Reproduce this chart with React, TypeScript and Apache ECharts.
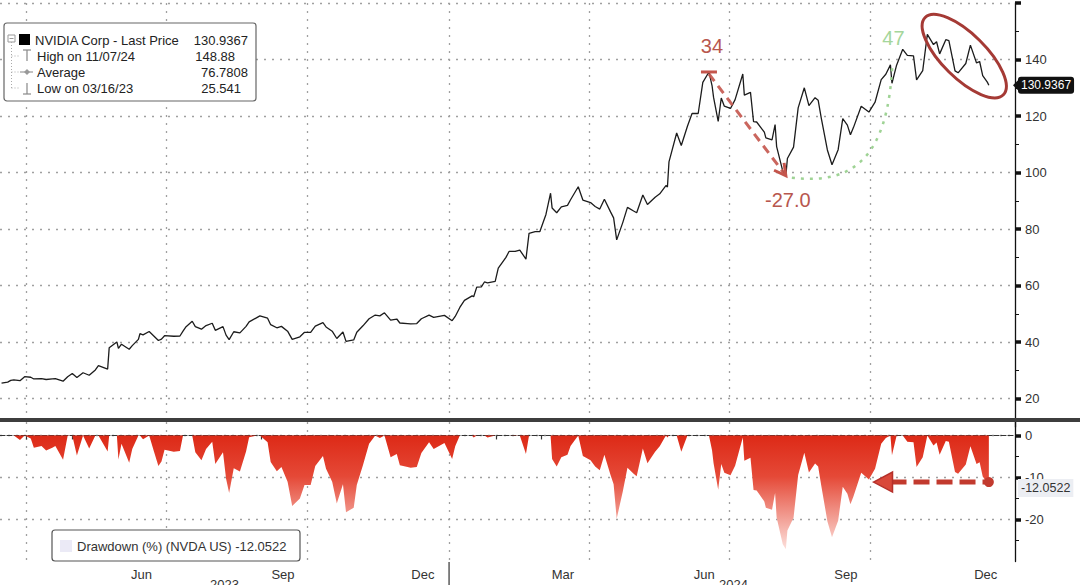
import React, { useEffect, useRef } from 'react';
import * as echarts from 'echarts';

// ---------- data ----------
const priceDates = [
  '2023-03-16','2023-03-20','2023-03-22','2023-03-24','2023-03-28','2023-03-31',
  '2023-04-04','2023-04-06','2023-04-11','2023-04-14','2023-04-18','2023-04-20','2023-04-25','2023-04-28',
  '2023-05-01','2023-05-04','2023-05-08','2023-05-12','2023-05-16','2023-05-18','2023-05-24','2023-05-25','2023-05-30','2023-05-31',
  '2023-06-02','2023-06-07','2023-06-09','2023-06-13','2023-06-14','2023-06-16','2023-06-20','2023-06-23','2023-06-26','2023-06-28','2023-06-30',
  '2023-07-06','2023-07-10','2023-07-12','2023-07-14','2023-07-18','2023-07-20','2023-07-24','2023-07-27','2023-07-31',
  '2023-08-02','2023-08-07','2023-08-09','2023-08-11','2023-08-14','2023-08-18','2023-08-22','2023-08-24','2023-08-29','2023-08-31',
  '2023-09-05','2023-09-07','2023-09-11','2023-09-14','2023-09-18','2023-09-21','2023-09-26','2023-09-29',
  '2023-10-03','2023-10-06','2023-10-11','2023-10-13','2023-10-17','2023-10-20','2023-10-24','2023-10-26','2023-10-31',
  '2023-11-02','2023-11-06','2023-11-10','2023-11-14','2023-11-17','2023-11-20','2023-11-24','2023-11-28','2023-11-30',
  '2023-12-05','2023-12-07','2023-12-11','2023-12-14','2023-12-19','2023-12-22','2023-12-29',
  '2024-01-03','2024-01-05','2024-01-08','2024-01-11','2024-01-16','2024-01-17','2024-01-19','2024-01-22','2024-01-24','2024-01-26','2024-01-31',
  '2024-02-02','2024-02-07','2024-02-09','2024-02-13','2024-02-16','2024-02-20','2024-02-22','2024-02-26','2024-02-29',
  '2024-03-04','2024-03-07','2024-03-08','2024-03-11','2024-03-14','2024-03-18','2024-03-20','2024-03-25','2024-03-28',
  '2024-04-02','2024-04-05','2024-04-08','2024-04-11','2024-04-15','2024-04-17','2024-04-19','2024-04-23','2024-04-26','2024-04-30',
  '2024-05-02','2024-05-06','2024-05-09','2024-05-14','2024-05-17','2024-05-21','2024-05-22','2024-05-23','2024-05-28','2024-05-31',
  '2024-06-04','2024-06-07','2024-06-11','2024-06-14','2024-06-18','2024-06-20','2024-06-21','2024-06-24','2024-06-26','2024-06-28',
  '2024-07-02','2024-07-05','2024-07-10','2024-07-11','2024-07-15','2024-07-17','2024-07-19','2024-07-24','2024-07-25','2024-07-29','2024-07-31',
  '2024-08-01','2024-08-05','2024-08-07','2024-08-08','2024-08-12','2024-08-15','2024-08-19','2024-08-22','2024-08-26','2024-08-28','2024-08-30',
  '2024-09-03','2024-09-06','2024-09-10','2024-09-13','2024-09-16','2024-09-18','2024-09-20','2024-09-25','2024-09-30',
  '2024-10-04','2024-10-08','2024-10-11','2024-10-14','2024-10-15','2024-10-18','2024-10-22','2024-10-25','2024-10-29','2024-10-31',
  '2024-11-04','2024-11-07','2024-11-11','2024-11-13','2024-11-15','2024-11-19','2024-11-21','2024-11-25','2024-11-27',
  '2024-12-02','2024-12-05','2024-12-09','2024-12-11','2024-12-13','2024-12-16','2024-12-17',
];

const prices = [
  25.5, 25.9, 26.5, 26.7, 26.4, 27.8,
  27.6, 27.0, 27.1, 26.8, 27.0, 27.1, 26.2, 27.8,
  28.9, 27.5, 29.2, 28.3, 30.2, 31.7, 30.5, 38.0, 40.1, 37.8,
  39.3, 37.5, 38.8, 41.0, 43.0, 42.6, 43.8, 42.2, 40.6, 41.1, 42.3,
  42.1, 42.2, 43.9, 45.5, 47.4, 45.5, 44.6, 45.9, 46.7,
  44.2, 45.5, 42.5, 40.9, 43.7, 43.3, 45.6, 47.2, 48.7, 49.3,
  48.5, 46.2, 45.1, 45.6, 43.9, 41.0, 41.9, 43.5,
  43.5, 45.7, 46.9, 45.4, 43.9, 41.3, 43.6, 40.3, 40.8,
  43.5, 45.8, 48.3, 49.6, 49.3, 50.4, 47.8, 48.2, 46.8,
  46.6, 46.5, 46.6, 48.3, 49.6, 48.8, 49.5,
  47.6, 49.1, 52.3, 54.8, 56.4, 56.1, 59.5, 59.6, 61.3, 61.0, 61.5,
  66.2, 70.0, 72.1, 72.1, 72.6, 69.4, 78.5, 79.1, 79.1,
  85.2, 92.7, 87.5, 85.8, 87.9, 88.4, 90.4, 95.0, 90.3,
  89.4, 88.0, 87.1, 90.6, 86.1, 84.0, 76.2, 82.4, 87.7, 86.4,
  85.8, 92.1, 88.7, 91.3, 92.5, 95.4, 94.9, 103.8, 114.0, 109.6,
  116.4, 120.9, 120.9, 131.9, 135.6, 130.8, 126.6, 118.1, 126.4, 123.5,
  122.7, 125.8, 134.9, 127.4, 128.4, 118.0, 117.9, 114.3, 112.3, 111.6, 117.0,
  109.2, 100.5, 98.9, 105.0, 109.0, 122.9, 130.0, 123.7, 126.5, 125.6, 119.4,
  108.0, 102.8, 108.1, 119.1, 116.8, 113.4, 116.0, 123.5, 121.4,
  124.9, 132.9, 134.8, 138.1, 131.6, 138.0, 143.6, 141.5, 141.3, 132.8,
  136.1, 148.9, 145.3, 146.3, 142.0, 147.0, 146.7, 136.0, 135.3,
  138.6, 145.1, 138.8, 139.3, 134.3, 132.0, 130.9,
];

const drawdowns = [
  0, 0, 0, 0, -1.1, 0,
  -0.7, -2.9, -2.5, -3.6, -2.9, -2.5, -5.8, -0.1,
  0, -4.8, 0, -3.1, 0, 0, -3.8, 0, 0, -5.7,
  -2.0, -6.5, -3.2, 0, 0, -0.9, 0, -3.7, -7.3, -6.2, -3.4,
  -3.9, -3.7, 0, 0, 0, -4.0, -5.9, -3.2, -1.5,
  -6.8, -4.0, -10.3, -13.7, -7.8, -8.6, -3.8, -0.4, 0, 0,
  -1.6, -6.3, -8.5, -7.5, -11.0, -16.8, -15.0, -11.8,
  -11.8, -7.3, -4.9, -7.9, -11.0, -16.2, -11.6, -18.3, -17.2,
  -11.8, -7.1, -2.0, 0, -0.6, 0, -5.2, -4.4, -7.1,
  -7.5, -7.7, -7.5, -4.2, -1.6, -3.2, -1.8,
  -5.6, -2.6, 0, 0, 0, -0.5, 0, 0, 0, -0.5, 0,
  0, 0, 0, -0.1, 0, -4.4, 0, 0, 0,
  0, 0, -5.6, -7.4, -5.2, -4.6, -2.5, 0, -4.9,
  -5.9, -7.4, -8.3, -4.6, -9.4, -11.6, -19.8, -13.3, -7.7, -9.1,
  -9.7, -3.1, -6.6, -3.9, -2.6, 0, -0.5, 0, 0, -3.9,
  0, 0, 0, 0, 0, -3.5, -6.6, -12.9, -6.8, -8.9,
  -9.5, -7.2, -0.5, -6.0, -5.3, -13.0, -13.1, -15.7, -17.2, -17.7, -13.7,
  -19.5, -25.9, -27.1, -22.6, -19.6, -9.4, -4.1, -8.8, -6.7, -7.4, -11.9,
  -20.4, -24.2, -20.3, -12.2, -13.9, -16.4, -14.5, -8.9, -10.5,
  -7.9, -2.0, -0.6, 0, -4.7, -0.1, 0, -1.5, -1.6, -7.5,
  -5.2, 0, -2.4, -1.7, -4.6, -1.3, -1.5, -8.7, -9.1,
  -6.9, -2.6, -6.8, -6.4, -9.8, -11.3, -12.05,
];

const axisStart = '2023-03-15';
const axisEnd = '2025-01-03';
const quarterStarts = ['2023-04-01','2023-07-01','2023-10-01','2024-01-01','2024-04-01','2024-07-01','2024-10-01'];
const monthStarts = [
  '2023-04-01','2023-05-01','2023-06-01','2023-07-01','2023-08-01','2023-09-01','2023-10-01','2023-11-01','2023-12-01',
  '2024-01-01','2024-02-01','2024-03-01','2024-04-01','2024-05-01','2024-06-01','2024-07-01','2024-08-01','2024-09-01',
  '2024-10-01','2024-11-01','2024-12-01',
];
const monthLabelDates = ['2023-06-15','2023-09-15','2023-12-15','2024-03-15','2024-06-15','2024-09-15','2024-12-15'];
const monthNames = ['Jan','Feb','Mar','Apr','May','Jun','Jul','Aug','Sep','Oct','Nov','Dec'];
const yearLabels = [{ text: '2023', date: '2023-08-08' }, { text: '2024', date: '2024-07-04' }];
const yearBoundary = '2024-01-01';

const priceMajorTicks = [20, 40, 60, 80, 100, 120, 140, 160];
const priceMinorTicks = [30, 50, 70, 90, 110, 130, 150];
const priceLabels = [20, 40, 60, 80, 100, 120, 140];
const ddMajorTicks = [-20, -10, 0];
const ddMinorTicks = [-25, -15, -5];
const ddLabels = [0, -10, -20];

const legendRows = [
  { label: 'NVIDIA Corp - Last Price', value: '130.9367' },
  { label: 'High on 11/07/24', value: '148.88' },
  { label: 'Average', value: '76.7808' },
  { label: 'Low on 03/16/23', value: '25.541' },
];
const lastDate = '2024-12-17';
const lastPrice = 130.9367;
const lastPriceText = '130.9367';
const lastDrawdown = -12.0522;
const lastDrawdownText = '-12.0522';
const ddLegendText = 'Drawdown (%) (NVDA US) -12.0522';

const peakPoint = { date: '2024-06-18', value: 135.6, label: '34' };
const troughPoint = { date: '2024-08-07', value: 98.9, label: '-27.0' };
const reboundPoint = { date: '2024-10-14', value: 138.1, label: '47' };
const circledCenter = { date: '2024-12-01', value: 141.2 };
const ddArrowTip = '2024-10-03';

// ---------- helpers ----------
const FONT = 'Liberation Sans';
const ts = (d: string) => Date.parse(d + 'T00:00:00Z');
const GRID_DOT = { color: '#a0a0a0', type: [2, 6] as any, width: 1.3 };

function buildOption(): any {
  const xMin = ts(axisStart);
  const xMax = ts(axisEnd);
  const priceData = priceDates.map((d, i) => [ts(d), prices[i]]);
  const ddData = priceDates.map((d, i) => [ts(d), drawdowns[i]]);
  const ddFill = new echarts.graphic.LinearGradient(0, 436, 0, 552, [
    { offset: 0, color: '#dd2a17' },
    { offset: 0.35, color: '#e54937' },
    { offset: 1, color: '#fde5e1' },
  ], true);

  return {
    animation: false,
    backgroundColor: '#ffffff',
    textStyle: { fontFamily: FONT },
    grid: [
      { left: 0, right: 65, top: 3, height: 424, outerBoundsMode: 'none' },
      { left: 0, right: 65, top: 422, height: 139.5, outerBoundsMode: 'none' },
    ],
    xAxis: [
      {
        type: 'value', gridIndex: 0, min: xMin, max: xMax, position: 'bottom',
        axisLine: { show: false },
        axisTick: { show: false, customValues: quarterStarts.map(ts) },
        axisLabel: { show: false },
        splitLine: { show: true, lineStyle: GRID_DOT },
      },
      {
        type: 'value', gridIndex: 1, min: xMin, max: xMax, position: 'bottom',
        axisLine: { show: true, lineStyle: { color: '#333', width: 1.2, type: [5, 2] } },
        axisTick: { show: true, customValues: monthStarts.map(ts), length: 4, lineStyle: { color: '#333', width: 1.2 } },
        axisLabel: {
          show: true, customValues: monthLabelDates.map(ts), margin: 6,
          color: '#333', fontSize: 13, fontFamily: FONT,
          formatter: (v: number) => monthNames[new Date(v).getUTCMonth()],
        },
        splitLine: { show: false },
      },
      {
        type: 'value', gridIndex: 1, min: xMin, max: xMax, position: 'top',
        axisLine: { show: false },
        axisTick: { show: false, customValues: quarterStarts.map(ts) },
        axisLabel: { show: false },
        splitLine: { show: true, lineStyle: GRID_DOT },
      },
    ],
    yAxis: [
      {
        type: 'value', gridIndex: 0, position: 'right', min: 10, max: 160,
        axisLine: { show: true, lineStyle: { color: '#111', width: 1.3 } },
        axisTick: { show: true, customValues: priceMinorTicks, length: 4, lineStyle: { color: '#111', width: 1 } },
        axisLabel: { show: false },
        splitLine: { show: false },
      },
      {
        type: 'value', gridIndex: 0, position: 'right', min: 10, max: 160,
        axisLine: { show: false },
        axisTick: { show: true, customValues: priceMajorTicks, length: 6, lineStyle: { color: '#111', width: 3.5 } },
        axisLabel: { show: true, customValues: priceLabels, margin: 10, color: '#333', fontSize: 13, fontFamily: FONT },
        splitLine: { show: true, lineStyle: GRID_DOT },
      },
      {
        type: 'value', gridIndex: 1, position: 'right', min: -30, max: 3.2,
        axisLine: { show: true, lineStyle: { color: '#111', width: 1.3 } },
        axisTick: { show: true, customValues: ddMinorTicks, length: 4, lineStyle: { color: '#111', width: 1 } },
        axisLabel: { show: false },
        splitLine: { show: false },
      },
      {
        type: 'value', gridIndex: 1, position: 'right', min: -30, max: 3.2,
        axisLine: { show: false },
        axisTick: { show: true, customValues: ddMajorTicks, length: 6, lineStyle: { color: '#111', width: 3.5 } },
        axisLabel: { show: true, customValues: ddLabels, margin: 10, color: '#333', fontSize: 13, fontFamily: FONT },
        splitLine: { show: true, lineStyle: GRID_DOT },
      },
    ],
    series: [
      {
        type: 'line', name: 'NVIDIA Corp - Last Price', xAxisIndex: 0, yAxisIndex: 1,
        data: priceData, showSymbol: false, symbol: 'none', z: 5,
        lineStyle: { color: '#1c1c1c', width: 1.3 },
      },
      {
        type: 'line', name: 'Drawdown (%) (NVDA US)', xAxisIndex: 1, yAxisIndex: 3,
        data: ddData, showSymbol: false, symbol: 'none', z: 4,
        lineStyle: { color: '#c22a1a', width: 0, opacity: 0 },
        areaStyle: { color: ddFill, opacity: 1 },
      },
    ],
  };
}

function buildGraphics(chart: any): any[] {
  const P = (d: string, v: number) => chart.convertToPixel({ xAxisIndex: 0, yAxisIndex: 1 }, [ts(d), v]) as number[];
  const Q = (d: string, v: number) => chart.convertToPixel({ xAxisIndex: 1, yAxisIndex: 3 }, [ts(d), v]) as number[];
  const els: any[] = [];
  const RED = '#c4554c';
  const RED_TXT = '#b8574e';
  const GREEN = '#9fd395';

  // separator between panels
  els.push({ type: 'rect', z: 50, shape: { x: 0, y: 418, width: 1080, height: 4 }, style: { fill: '#3d3d3d' } });

  // peak -> trough arrow
  const [sx, sy] = P(peakPoint.date, peakPoint.value);
  const [tx, ty] = P(troughPoint.date, troughPoint.value);
  const [ex, ey] = P(reboundPoint.date, reboundPoint.value);
  const dx = tx - sx, dy = ty - sy;
  const len = Math.hypot(dx, dy);
  const ux = dx / len, uy = dy / len;
  const leg = (a: number) => [tx - 13 * (ux * Math.cos(a) - uy * Math.sin(a)), ty - 13 * (ux * Math.sin(a) + uy * Math.cos(a))];
  els.push({ type: 'line', z: 100, shape: { x1: sx - 8, y1: sy, x2: sx + 8, y2: sy }, style: { stroke: RED, lineWidth: 3 } });
  els.push({ type: 'line', z: 100, shape: { x1: sx, y1: sy + 2, x2: tx - ux * 2, y2: ty - uy * 2 }, style: { stroke: RED, lineWidth: 3, lineDash: [9, 6], opacity: 0.9 } });
  els.push({ type: 'polyline', z: 100, shape: { points: [leg(0.5), [tx, ty], leg(-0.5)] }, style: { stroke: RED, lineWidth: 3, fill: 'none' } });
  els.push({ type: 'text', z: 100, x: sx + 3, y: sy - 26, style: { text: peakPoint.label, fill: RED_TXT, fontSize: 20, fontFamily: FONT, align: 'center', verticalAlign: 'middle' } });
  els.push({ type: 'text', z: 100, x: tx + 2, y: ty + 24, style: { text: troughPoint.label, fill: RED_TXT, fontSize: 20, fontFamily: FONT, align: 'center', verticalAlign: 'middle' } });

  // rebound curve
  els.push({
    type: 'bezierCurve', z: 100,
    shape: { x1: tx + 6, y1: ty + 2, cpx1: tx + 66, cpy1: ty + 9, cpx2: ex - 2, cpy2: ey + 95, x2: ex + 2, y2: ey - 3 },
    style: { stroke: GREEN, lineWidth: 2.5, lineDash: [3, 6], fill: 'none' },
  });
  els.push({ type: 'text', z: 100, x: ex + 3, y: ey - 27, style: { text: reboundPoint.label, fill: '#a5d69b', fontSize: 20, fontFamily: FONT, align: 'center', verticalAlign: 'middle' } });

  // circled recent region
  const [cx, cy] = P(circledCenter.date, circledCenter.value);
  els.push({ type: 'ellipse', z: 100, x: cx, y: cy, rotation: -0.78, shape: { cx: 0, cy: 0, rx: 55, ry: 22 }, style: { stroke: '#a53a35', lineWidth: 3, fill: 'none' } });

  // last price tag
  const [, ly] = P(lastDate, lastPrice);
  els.push({ type: 'polygon', z: 100, shape: { points: [[1013, ly], [1019, ly - 6], [1019, ly + 6]] }, style: { fill: '#111' } });
  els.push({ type: 'text', z: 101, x: 1018, y: ly, style: { text: lastPriceText, fill: '#fff', backgroundColor: '#111', padding: [3, 3, 2, 3], borderRadius: 3, fontSize: 12, fontFamily: FONT, align: 'left', verticalAlign: 'middle' } });

  // drawdown arrow
  const [dlx, dly] = Q(lastDate, lastDrawdown);
  const [tipX] = Q(ddArrowTip, lastDrawdown);
  const ay = dly - 4;
  els.push({ type: 'line', z: 100, shape: { x1: tipX + 17, y1: ay, x2: dlx, y2: ay }, style: { stroke: '#c23a2e', lineWidth: 5, lineDash: [16, 7] } });
  els.push({ type: 'polygon', z: 100, shape: { points: [[tipX, ay], [tipX + 19, ay - 10], [tipX + 19, ay + 10]] }, style: { fill: '#d9483a', stroke: '#b5302a', lineWidth: 1.5 } });
  els.push({ type: 'circle', z: 100, shape: { cx: dlx, cy: ay, r: 5 }, style: { fill: '#c23a2e' } });
  els.push({ type: 'text', z: 101, x: 1018, y: dly + 2, style: { text: lastDrawdownText, fill: '#333', backgroundColor: '#eceef3', padding: [3, 3, 2, 3], fontSize: 12.5, fontFamily: FONT, align: 'left', verticalAlign: 'middle' } });

  // year boundary tick and year labels
  const [yb] = Q(yearBoundary, -30);
  els.push({ type: 'line', z: 60, shape: { x1: yb, y1: 562, x2: yb, y2: 585 }, style: { stroke: '#333', lineWidth: 1.2 } });
  yearLabels.forEach((y) => {
    const [yx] = Q(y.date, -30);
    els.push({ type: 'text', z: 60, x: yx, y: 578, style: { text: y.text, fill: '#333', fontSize: 13, fontFamily: FONT, align: 'center', verticalAlign: 'top' } });
  });

  // top-left legend
  const L: any[] = [];
  L.push({ type: 'rect', shape: { x: 4, y: 23, width: 252, height: 78, r: 3 }, style: { fill: '#fff', stroke: '#666', lineWidth: 1.2 } });
  L.push({ type: 'rect', shape: { x: 8, y: 35, width: 7, height: 7 }, style: { fill: '#fff', stroke: '#999', lineWidth: 1 } });
  L.push({ type: 'line', shape: { x1: 9.5, y1: 38.5, x2: 13.5, y2: 38.5 }, style: { stroke: '#999', lineWidth: 1 } });
  L.push({ type: 'line', shape: { x1: 11.5, y1: 42, x2: 11.5, y2: 88 }, style: { stroke: '#aaa', lineWidth: 1, lineDash: [1, 2] } });
  [56, 72, 88].forEach((yy) => L.push({ type: 'line', shape: { x1: 11.5, y1: yy, x2: 19, y2: yy }, style: { stroke: '#aaa', lineWidth: 1, lineDash: [1, 2] } }));
  L.push({ type: 'rect', shape: { x: 19, y: 34, width: 11, height: 11 }, style: { fill: '#000' } });
  L.push({ type: 'line', shape: { x1: 27, y1: 50, x2: 27, y2: 61 }, style: { stroke: '#888', lineWidth: 1.2 } });
  L.push({ type: 'line', shape: { x1: 23, y1: 50, x2: 31, y2: 50 }, style: { stroke: '#888', lineWidth: 1.2 } });
  L.push({ type: 'line', shape: { x1: 20, y1: 72, x2: 33, y2: 72 }, style: { stroke: '#999', lineWidth: 1.2 } });
  L.push({ type: 'polygon', shape: { points: [[27, 69], [30, 72], [27, 75], [24, 72]] }, style: { fill: '#999' } });
  L.push({ type: 'line', shape: { x1: 27, y1: 83, x2: 27, y2: 94 }, style: { stroke: '#888', lineWidth: 1.2 } });
  L.push({ type: 'line', shape: { x1: 23, y1: 94, x2: 31, y2: 94 }, style: { stroke: '#888', lineWidth: 1.2 } });
  const rowY = [40, 56, 72, 88];
  const valueRight = [248, 235, 248, 241];
  legendRows.forEach((r, i) => {
    L.push({ type: 'text', x: i === 0 ? 35 : 37, y: rowY[i], style: { text: r.label, fill: '#222', fontSize: 13, fontFamily: FONT, align: 'left', verticalAlign: 'middle' } });
    L.push({ type: 'text', x: valueRight[i], y: rowY[i], style: { text: r.value, fill: '#222', fontSize: 13, fontFamily: FONT, align: 'right', verticalAlign: 'middle' } });
  });
  els.push({ type: 'group', z: 110, children: L });

  // drawdown legend
  els.push({
    type: 'group', z: 110, children: [
      { type: 'rect', shape: { x: 52, y: 530, width: 248, height: 31, r: 3 }, style: { fill: '#fff', stroke: '#555', lineWidth: 1.2 } },
      { type: 'rect', shape: { x: 60, y: 540, width: 12, height: 12 }, style: { fill: '#ebeaf6' } },
      { type: 'text', x: 77, y: 546, style: { text: ddLegendText, fill: '#333', fontSize: 13, fontFamily: FONT, align: 'left', verticalAlign: 'middle' } },
    ],
  });

  return els;
}

export default function App() {
  const ref = useRef<HTMLDivElement>(null);
  useEffect(() => {
    const el = ref.current as HTMLDivElement;
    const chart = echarts.init(el, null, { renderer: 'svg' });
    chart.setOption(buildOption());
    chart.setOption({ graphic: buildGraphics(chart) });
    return () => chart.dispose();
  }, []);
  return <div ref={ref} style={{ position: 'absolute', left: 0, top: 0, width: 1080, height: 585, background: '#fff' }} />;
}
